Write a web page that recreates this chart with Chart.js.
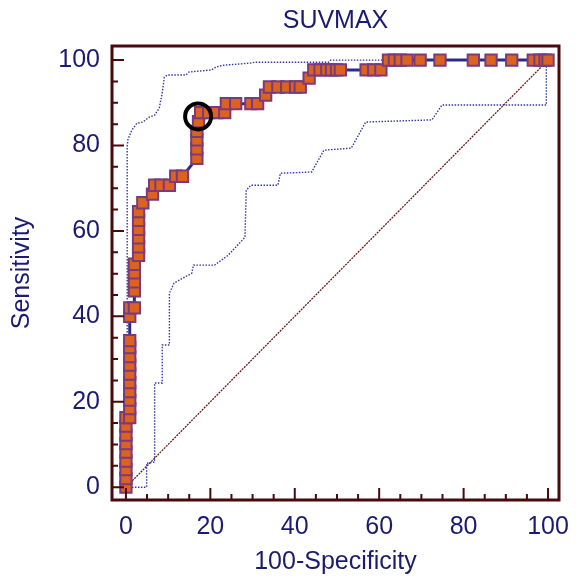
<!DOCTYPE html>
<html>
<head>
<meta charset="utf-8">
<script src="https://cdn.jsdelivr.net/npm/chart.js@4/dist/chart.umd.min.js"></script>
<style>
  html, body { margin: 0; padding: 0; background: #fff; }
</style>
</head>
<body>
<canvas id="rocChart" width="576" height="579"></canvas>
<script>
// ROC curve points (100-Specificity, Sensitivity)
const rocX = [0, 0, 0, 0, 0, 0, 0, 0, 0,
  0.9, 0.9, 0.9, 0.9, 0.9, 0.9, 0.9, 0.9, 0.9, 0.9,
  0.9, 0.9, 2.0, 2.0, 2.0, 2.0, 2.0,
  3.0, 3.0, 3.0, 3.0, 3.0, 3.0, 4.0, 6.3, 6.8, 8.3, 10.3, 11.8, 13.4,
  16.8, 16.8, 16.8, 16.8, 17.2, 17.7, 19.6, 21.5, 23.4,
  23.8, 26.0, 29.6, 31.2, 33.1, 34.0, 36.0, 38.1, 40.2, 41.3, 43.4,
  44.5, 46.0, 47.6, 48.7, 49.9, 50.8, 56.9, 58.7, 60.4,
  62.2, 63.6, 65.0, 66.6, 69.7, 74.4, 82.3, 86.5, 91.4, 96.5, 98.1, 99.3, 100];
const rocY = [0, 2.0, 4.1, 6.1, 8.2, 10.2, 12.2, 14.3, 16.3,
  16.3, 18.4, 20.4, 22.4, 24.5, 26.5, 28.6, 30.6, 32.7, 34.3,
  40.0, 42.0, 42.0, 46.0, 48.1, 50.2, 52.2,
  54.3, 56.3, 58.4, 60.4, 62.5, 64.5, 66.6, 68.6, 70.7, 70.7, 70.7, 72.8, 72.8,
  77.0, 79.2, 81.3, 83.3, 85.6, 87.7, 87.7, 87.7, 87.7,
  89.8, 89.8, 89.8, 89.8, 91.8, 93.7, 93.7, 93.7, 93.7, 93.7, 95.8,
  97.7, 97.7, 97.7, 97.7, 97.7, 97.7, 97.7, 97.7, 97.7,
  100, 100, 100, 100, 100, 100, 100, 100, 100, 100, 100, 100, 100];

// 95% confidence bounds
const upperX = [0, 0.3, 0.3, 0.5, 1.4, 2.6, 4.0, 5.6, 6.8, 7.9, 8.6, 9.1, 9.8, 14.2, 14.9, 20.3, 21.4, 23.1, 29.6, 30.5, 48.0, 48.5, 100];
const upperY = [0, 0, 80.0, 81.5, 83.6, 85.2, 85.5, 86.7, 87.1, 88.8, 92.3, 96.0, 96.5, 96.5, 97.2, 97.7, 98.4, 98.8, 99.3, 99.5, 99.5, 100, 100];
const lowerX = [0, 4.9, 4.9, 6.8, 6.8, 8.6, 8.6, 10.3, 10.3, 11.4, 15.6, 16.0, 21.0, 24.2, 28.2, 28.5, 29.6, 36.0, 36.6, 44.0, 46.9, 53.4, 56.8, 72.5, 74.9, 99.6, 99.6, 100];
const lowerY = [0, 0, 5.6, 5.9, 24.4, 24.4, 33.3, 33.3, 45.4, 47.8, 50.1, 52.0, 52.0, 54.3, 58.5, 69.5, 70.7, 70.7, 73.5, 73.8, 78.9, 79.4, 85.5, 86.0, 89.5, 89.5, 98.8, 100];

// reference diagonal and chosen cut-off
const diagX = [0, 100];
const diagY = [0, 100];
const cutX = [17.1];
const cutY = [86.8];

const xTicks = [0, 20, 40, 60, 80, 100];
const yTicks = [0, 20, 40, 60, 80, 100];
const tickMarks = [0, 5, 10, 15, 20, 25, 30, 35, 40, 45, 50, 55, 60, 65, 70, 75, 80, 85, 90, 95, 100];
const chartTitle = 'SUVMAX';

const navy = '#1b1b72';
const frameColor = '#480a0a';
const fontFamily = '"Liberation Sans", Arial, sans-serif';

const toPoints = (xs, ys) => xs.map((v, i) => ({ x: v, y: ys[i] }));

const rocFrame = {
  id: 'rocFrame',
  afterDatasetsDraw(chart) {
    const { ctx, chartArea: a, scales: { x, y } } = chart;
    ctx.save();
    ctx.strokeStyle = frameColor;
    ctx.lineWidth = 3;
    ctx.strokeRect(a.left, a.top, a.right - a.left, a.bottom - a.top);
    ctx.lineWidth = 2;
    ctx.beginPath();
    tickMarks.forEach(v => {
      const len = v % 20 === 0 ? 12 : 6;
      const px = x.getPixelForValue(v);
      ctx.moveTo(px, a.bottom);
      ctx.lineTo(px, a.bottom - len);
      const py = y.getPixelForValue(v);
      ctx.moveTo(a.left, py);
      ctx.lineTo(a.left + len, py);
    });
    ctx.stroke();
    ctx.fillStyle = navy;
    ctx.font = '25px ' + fontFamily;
    ctx.textAlign = 'center';
    ctx.textBaseline = 'middle';
    ctx.fillText(chartTitle, (a.left + a.right) / 2, 21);
    ctx.restore();
  }
};

new Chart(document.getElementById('rocChart'), {
  type: 'scatter',
  data: {
    datasets: [{
      label: 'cut-off',
      data: toPoints(cutX, cutY),
      pointStyle: 'circle',
      pointRadius: 13,
      pointBorderWidth: 4,
      pointBorderColor: '#000',
      pointBackgroundColor: 'rgba(0,0,0,0)',
      showLine: false,
    }, {
      label: 'ROC',
      data: toPoints(rocX, rocY),
      showLine: true,
      borderColor: '#2b2b8c',
      borderWidth: 3,
      pointStyle: 'rect',
      pointRadius: 8,
      pointBackgroundColor: '#dc6220',
      pointBorderColor: '#7a3a7c',
      pointBorderWidth: 2,
    }, {
      label: 'upper',
      data: toPoints(upperX, upperY),
      showLine: true,
      borderColor: '#3636a4',
      borderWidth: 1.4,
      borderDash: [1.5, 1.5],
      pointRadius: 0,
    }, {
      label: 'lower',
      data: toPoints(lowerX, lowerY),
      showLine: true,
      borderColor: '#3636a4',
      borderWidth: 1.4,
      borderDash: [1.5, 1.5],
      pointRadius: 0,
    }, {
      label: 'diagonal',
      data: toPoints(diagX, diagY),
      showLine: true,
      borderColor: '#6a1c1c',
      borderWidth: 1.3,
      borderDash: [2, 1],
      pointRadius: 0,
    }]
  },
  options: {
    responsive: false,
    animation: false,
    layout: { padding: { top: 46, right: 10, left: 0, bottom: 0 } },
    plugins: {
      legend: { display: false },
      tooltip: { enabled: false },
    },
    scales: {
      x: {
        type: 'linear',
        min: -3.3,
        max: 102.6,
        afterBuildTicks: s => { s.ticks = xTicks.map(v => ({ value: v })); },
        afterFit: s => { s.height = 79; s.paddingLeft = 0; s.paddingRight = 0; },
        grid: { display: false, drawTicks: false },
        border: { display: false },
        ticks: { color: navy, font: { size: 25, family: fontFamily }, padding: 12, maxRotation: 0 },
        title: { display: true, text: '100-Specificity', color: navy, font: { size: 25, family: fontFamily }, padding: { top: 0, bottom: 2 } },
      },
      y: {
        type: 'linear',
        min: -3.0,
        max: 103.3,
        afterBuildTicks: s => { s.ticks = yTicks.map(v => ({ value: v })); },
        afterFit: s => { s.width = 112; s.paddingTop = 0; s.paddingBottom = 0; },
        grid: { display: false, drawTicks: false },
        border: { display: false },
        ticks: { color: navy, font: { size: 25, family: fontFamily }, padding: 12 },
        title: { display: true, text: 'Sensitivity', color: navy, font: { size: 25, family: fontFamily }, padding: { top: 7, bottom: 0 } },
      }
    }
  },
  plugins: [rocFrame]
});
</script>
</body>
</html>
